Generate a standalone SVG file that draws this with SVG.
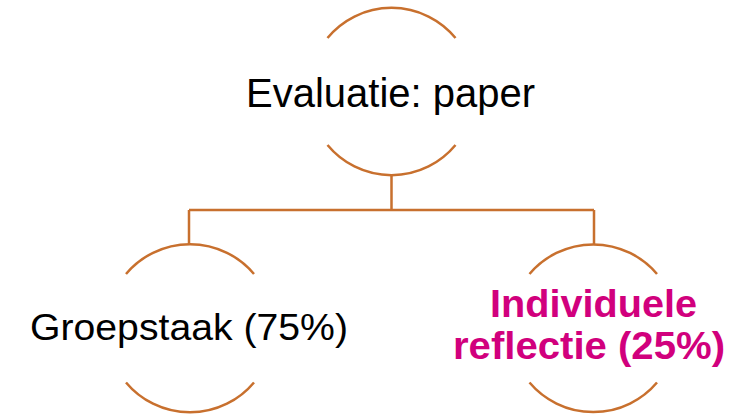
<svg xmlns="http://www.w3.org/2000/svg" width="754" height="415" viewBox="0 0 754 415">
<style>
.arc{fill:none;stroke:#C8702E;stroke-width:2.5}
.con{fill:none;stroke:#C8702E;stroke-width:2.5}
.t{font-family:"Liberation Sans",Arial,sans-serif;fill:#000;font-variant-ligatures:none}
.b{font-family:"Liberation Sans",Arial,sans-serif;font-weight:bold;fill:#D1007D;font-variant-ligatures:none}
</style>
<rect width="754" height="415" fill="#fff"/>
<g id="connectors">
<path class="con" d="M391.5,175 V210 M189,210 H594 M189,210 V244.5 M594,210 V245"/>
</g>
<g id="node-top">
<path class="arc" d="M327.5,38 A83,83 0 0 1 455.5,38"/>
<path class="arc" d="M327.5,145 A83,83 0 0 0 455.5,145"/>
<text class="t" x="246" y="106.5" font-size="41" textLength="289" lengthAdjust="spacingAndGlyphs">Evaluatie: paper</text>
</g>
<g id="node-left">
<path class="arc" d="M126,274 A83.5,83.5 0 0 1 254,274"/>
<path class="arc" d="M126,382.5 A83.5,83.5 0 0 0 254,382.5"/>
<text class="t" x="30" y="340" font-size="37.5" textLength="318" lengthAdjust="spacingAndGlyphs">Groepstaak (75%)</text>
</g>
<g id="node-right">
<path class="arc" d="M529.5,274 A83.5,83.5 0 0 1 657,274"/>
<path class="arc" d="M529.5,382.5 A83.5,83.5 0 0 0 657,382.5"/>
<text class="b" x="490" y="316.5" font-size="38" textLength="207" lengthAdjust="spacingAndGlyphs">Individuele</text>
<text class="b" x="453" y="358.5" font-size="38" textLength="272" lengthAdjust="spacingAndGlyphs">reflectie (25%)</text>
</g>
</svg>
